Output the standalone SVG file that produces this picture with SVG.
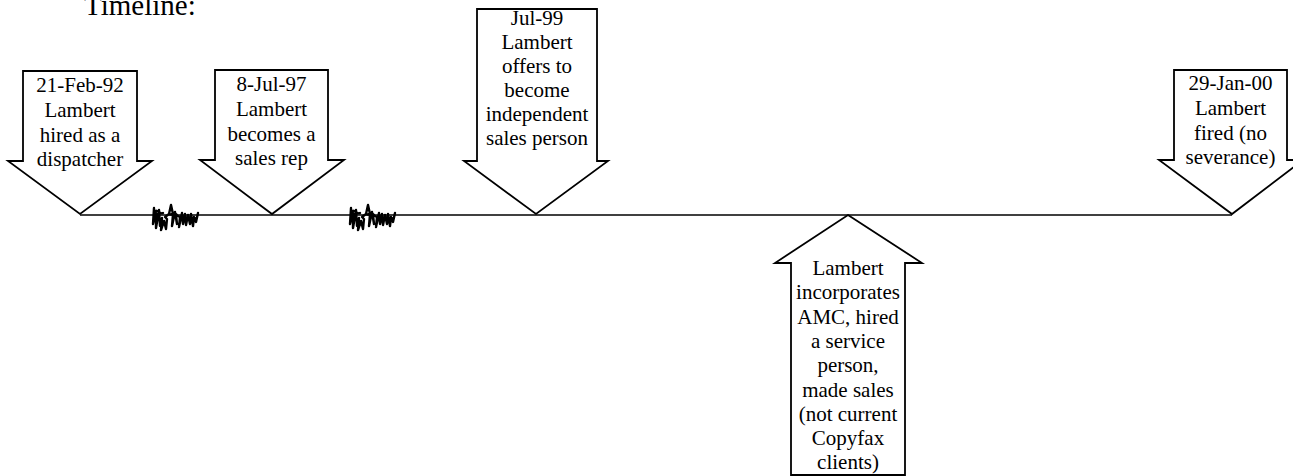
<svg xmlns="http://www.w3.org/2000/svg" xmlns:xlink="http://www.w3.org/1999/xlink" width="1293" height="476" viewBox="0 0 1293 476">
<style>
.arr{fill:#fff;stroke:#000;stroke-width:1.8;stroke-linejoin:miter}
.t{font-family:"Liberation Serif","Times New Roman",serif;font-size:21px;fill:#000;text-anchor:middle}
.title{font-family:"Liberation Serif","Times New Roman",serif;font-size:29px;fill:#000}
.ln{stroke:#000;stroke-width:1.6;fill:none}
.sq{stroke:#000;stroke-width:2.4;fill:none;stroke-linejoin:round;stroke-linecap:round}
</style>
<defs>
<path id="squiggle" d="M2,3 L1,19 L4,8 L4,23 L7,5 L8,21 L10,13 L9,25 L12,16 L14,24 L15,14 L13,12 L17,9 L19,0 L21,9 L20,21 L23,7 L25,19 L24,10 L28,12 L27,22 L30,8 L31,19 L33,9 L34,20 L36,10 L38,19 L39,9 L41,21 L42,12 L44,17 L46,8 M3,6 C6,4 8,10 11,8 M17,9 C20,11 22,6 25,10 M29,11 C31,16 35,15 36,11 M37,15 C39,12 41,17 43,13"/>
</defs>
<text class="title" x="84" y="15">Timeline:</text>
<g id="connectors">
<line class="ln" x1="80" y1="215" x2="1232" y2="215"/>
<use xlink:href="#squiggle" href="#squiggle" class="sq" x="152" y="205"/>
<use xlink:href="#squiggle" href="#squiggle" class="sq" x="349" y="205"/>
</g>
<g id="n1">
<polygon class="arr" points="23,71 137,71 137,161 152,161 80,214 8,161 23,161"/>
<text class="t" x="80" y="92">21-Feb-92</text>
<text class="t" x="80" y="117">Lambert</text>
<text class="t" x="80" y="142">hired as a</text>
<text class="t" x="80" y="166">dispatcher</text>
</g>
<g id="n2">
<polygon class="arr" points="215,70 328,70 328,160 344,160 272,214 200,160 215,160"/>
<text class="t" x="271.5" y="91">8-Jul-97</text>
<text class="t" x="271.5" y="116">Lambert</text>
<text class="t" x="271.5" y="141">becomes a</text>
<text class="t" x="271.5" y="165">sales rep</text>
</g>
<g id="n3">
<polygon class="arr" points="477,9 597,9 597,161 608,161 536,214 464,161 477,161"/>
<text class="t" x="537" y="25">Jul-99</text>
<text class="t" x="537" y="49">Lambert</text>
<text class="t" x="537" y="73">offers to</text>
<text class="t" x="537" y="97">become</text>
<text class="t" x="537" y="121">independent</text>
<text class="t" x="537" y="145">sales person</text>
</g>
<g id="n4">
<polygon class="arr" points="1174,70 1287,70 1287,160 1303,160 1232,214 1159,160 1174,160"/>
<text class="t" x="1230.5" y="90">29-Jan-00</text>
<text class="t" x="1230.5" y="115">Lambert</text>
<text class="t" x="1230.5" y="140">fired (no</text>
<text class="t" x="1230.5" y="164">severance)</text>
</g>
<g id="n5">
<polygon class="arr" points="848,215 922,263 905,263 905,475 791,475 791,263 775,263"/>
<text class="t" x="848" y="275">Lambert</text>
<text class="t" x="848" y="299">incorporates</text>
<text class="t" x="848" y="324">AMC, hired</text>
<text class="t" x="848" y="348">a service</text>
<text class="t" x="848" y="372">person,</text>
<text class="t" x="848" y="397">made sales</text>
<text class="t" x="848" y="421">(not current</text>
<text class="t" x="848" y="445">Copyfax</text>
<text class="t" x="848" y="469">clients)</text>
</g>
</svg>
